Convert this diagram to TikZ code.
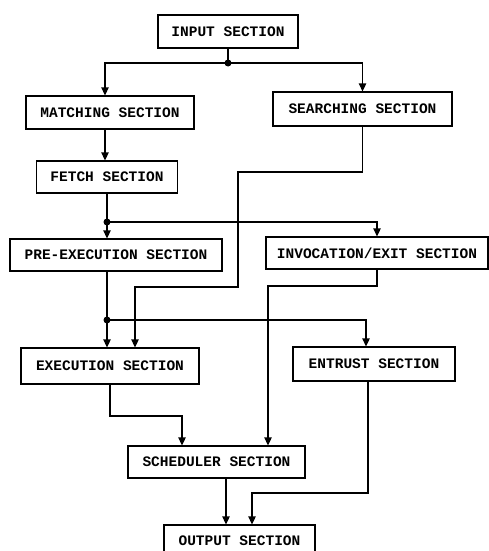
\documentclass[tikz,border=0pt]{standalone}
\usepackage{fontspec}
\setmonofont{Liberation Mono}
\usetikzlibrary{arrows.meta}
\begin{document}
\begin{tikzpicture}[x=1pt,y=1pt,
  box/.style={draw,line width=1.3pt,inner sep=0pt,font=\ttfamily\bfseries\fontsize{14.5}{16}\selectfont},
  conn/.style={line width=1.3pt},
  arr/.style={conn,-{Triangle[length=8pt,width=7.5pt]}},
  dot/.style={circle,fill,inner sep=0pt,minimum size=7pt}]
\useasboundingbox (0,0) rectangle (489,-551);
\node[box,minimum width=140pt,minimum height=33pt] (in) at (228,-31.5) {INPUT SECTION};
\node[box,minimum width=168pt,minimum height=33pt] (match) at (110,-112.5) {MATCHING SECTION};
\node[box,minimum width=179pt,minimum height=34pt] (search) at (362.5,-109) {SEARCHING SECTION};
\node[box,minimum width=141pt,minimum height=32pt] (fetch) at (107,-177) {FETCH SECTION};
\node[box,minimum width=212pt,minimum height=32pt] (pre) at (116,-255) {PRE-EXECUTION SECTION};
\node[box,minimum width=222pt,minimum height=32pt] (inv) at (377,-253) {INVOCATION/EXIT SECTION};
\node[box,minimum width=178pt,minimum height=36pt] (exec) at (110,-366) {EXECUTION SECTION};
\node[box,minimum width=162pt,minimum height=34pt] (entrust) at (374,-364) {ENTRUST SECTION};
\node[box,minimum width=177pt,minimum height=32pt] (sched) at (216.5,-462) {SCHEDULER SECTION};
\node[box,minimum width=151pt,minimum height=32pt] (out) at (239.5,-541) {OUTPUT SECTION};

\node[dot] (j1) at (228,-63) {};
\node[dot] (j2) at (107,-222) {};
\node[dot] (j3) at (107,-320) {};
\coordinate (b1) at (238,-172);
\coordinate (b2) at (238,-287);
\coordinate (b3) at (135,-287);
\coordinate (c1) at (268,-286);
\coordinate (d1) at (182,-416);
\coordinate (e1) at (252,-493);

\draw[conn] (in.south) -- (j1.center);
\draw[arr] (j1.center) -| ([xshift=-5pt]match.north);
\draw[arr] (j1.center) -| (search.north);
\draw[arr] ([xshift=-5pt]match.south) -- ([xshift=-2pt]fetch.north);
\draw[conn] (fetch.south) -- (j2.center);
\draw[arr] (j2.center) -- (j2 |- pre.north);
\draw[arr] (j2.center) -| (inv.north);
\draw[conn] (j2 |- pre.south) -- (j3.center);
\draw[arr] (j3.center) -- (j3 |- exec.north);
\draw[arr] (j3.center) -| ([xshift=-8pt]entrust.north);
\draw[arr] (search.south) |- (b1) -- (b2) -- (b3) -- (b3 |- exec.north);
\draw[arr] (inv.south) |- (c1) -- (c1 |- sched.north);
\draw[arr] (exec.south) |- (d1) -- (d1 |- sched.north);
\draw[arr] ([xshift=-6pt]entrust.south) |- (e1) -- (e1 |- out.north);
\draw[arr] ([xshift=9.5pt]sched.south) -- ([xshift=9.5pt]sched.south |- out.north);
\end{tikzpicture}
\end{document}
